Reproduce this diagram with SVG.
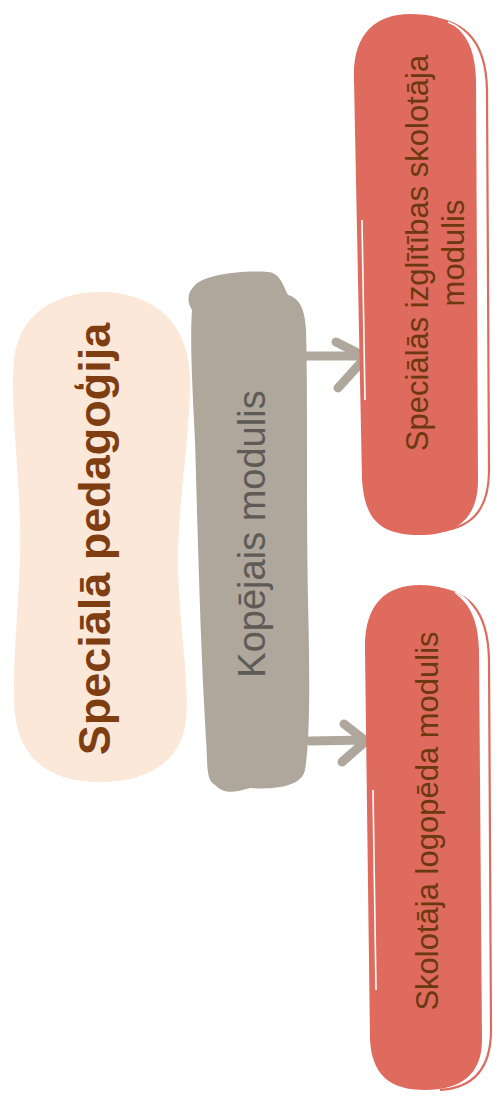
<svg xmlns="http://www.w3.org/2000/svg" width="497" height="1098" viewBox="0 0 497 1098">
<style>
.peach{fill:#FCE8D9}
.gray{fill:#AFA79B}
.red{fill:#DE6B5D}
.redline{fill:none;stroke:#DE6B5D;stroke-width:2.2}
.whiteline{fill:none;stroke:#FFFFFF;stroke-width:1.6}
.conn{fill:none;stroke:#AFA79B;stroke-width:9;stroke-linecap:round;stroke-linejoin:round}
.t1{font-family:"Liberation Sans",Arial,sans-serif;font-weight:bold;font-size:45px;fill:#7F3E12}
.t2{font-family:"Liberation Sans",Arial,sans-serif;font-size:38px;fill:#5E5A56}
.t3{font-family:"Liberation Sans",Arial,sans-serif;font-size:31px;fill:#6B3810}
</style>
<rect width="497" height="1098" fill="#FFFFFF"/>
<g id="node-specialpedagogija">
<path class="peach" d="M100 292 C150 292 190 320 190 380 C190 440 178 500 178 560 C178 620 190 680 186 720 C182 760 150 782 100 782 C50 782 15 760 14 700 C13 640 22 580 20 520 C18 460 10 400 14 360 C18 315 55 292 100 292 Z"/>
<text class="t1" transform="translate(110,539) rotate(-90)" text-anchor="middle">Speciālā pedagoģija</text>
</g>
<g id="node-kopejais">
<path class="gray" d="M195 285 C205 275 240 270 268 272 C280 273 283 285 288 295 C300 298 305 310 306 330 C308 400 306 500 308 600 C310 680 310 740 305 770 C302 785 280 790 250 788 C235 792 225 795 215 785 C205 780 208 760 206 740 C200 640 198 540 195 440 C192 380 190 340 192 310 C186 300 188 292 195 285 Z"/>
<text class="t2" transform="translate(265,534) rotate(-90)" text-anchor="middle">Kopējais modulis</text>
</g>
<g id="connectors">
<path class="conn" d="M300 356 L366 356 M336 342 L366 357 L338 388"/>
<path class="conn" d="M310 741 L366 740 M344 724 L366 741 L342 762"/>
</g>
<g id="node-specizgl">
<path class="red" d="M410 14 C450 14 475 30 476 80 L478 480 C478 520 455 535 420 535 C380 535 365 520 362 480 L354 80 C352 35 375 14 410 14 Z"/>
<path class="redline" d="M418 17 C462 17 486 38 487 90 L489 470 C489 512 470 530 432 532"/>
<path class="whiteline" d="M448 22 C470 30 478 50 479 90 L481 300"/>
<path class="whiteline" d="M362 220 C363 290 364 350 365 400"/>
<text class="t3" transform="translate(428,253) rotate(-90)" text-anchor="middle">Speciālās izglītības skolotāja</text>
<text class="t3" transform="translate(464,253) rotate(-90)" text-anchor="middle">modulis</text>
</g>
<g id="node-logopeds">
<path class="red" d="M420 585 C458 585 478 605 479 650 L482 1040 C482 1075 460 1090 425 1090 C390 1090 372 1075 370 1040 L365 650 C364 605 385 585 420 585 Z"/>
<path class="redline" d="M428 588 C468 588 488 610 489 660 L491 1030 C491 1070 472 1088 440 1090"/>
<path class="whiteline" d="M455 592 C474 600 481 620 482 660 L484 880"/>
<path class="whiteline" d="M373 790 C374 860 375 930 376 990"/>
<text class="t3" transform="translate(438,821) rotate(-90)" text-anchor="middle">Skolotāja logopēda modulis</text>
</g>
</svg>
